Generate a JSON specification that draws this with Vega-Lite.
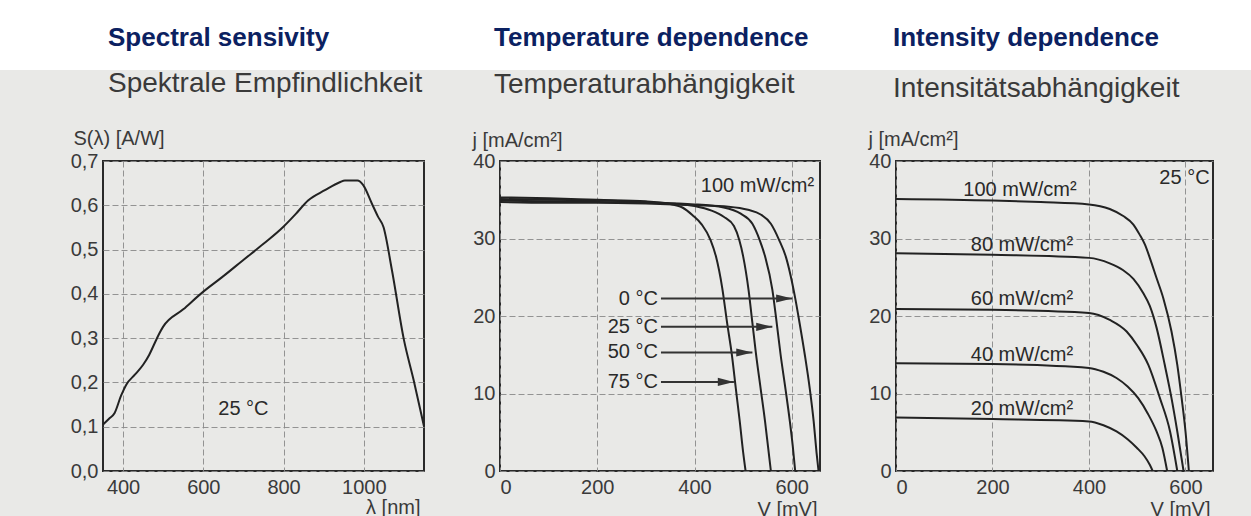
{
  "$schema": "https://vega.github.io/schema/vega-lite/v6.json",
  "autosize": {"type": "none"},
  "padding": {"left": 0, "top": 0, "right": 1251, "bottom": 516},
  "background": "#e9e9e7",
  "bounds": "flush",
  "spacing": 91,
  "datasets": {
    "spectral": [
      {"wavelength": 350, "S": 0.105}, {"wavelength": 365, "S": 0.118}, {"wavelength": 379, "S": 0.131},
      {"wavelength": 395, "S": 0.17}, {"wavelength": 408, "S": 0.195}, {"wavelength": 430, "S": 0.218},
      {"wavelength": 450, "S": 0.24}, {"wavelength": 465, "S": 0.262}, {"wavelength": 479, "S": 0.289},
      {"wavelength": 490, "S": 0.31}, {"wavelength": 500, "S": 0.326}, {"wavelength": 550, "S": 0.365},
      {"wavelength": 600, "S": 0.405}, {"wavelength": 650, "S": 0.44}, {"wavelength": 699, "S": 0.476},
      {"wavelength": 750, "S": 0.513}, {"wavelength": 799, "S": 0.551}, {"wavelength": 830, "S": 0.58},
      {"wavelength": 861, "S": 0.611}, {"wavelength": 903, "S": 0.634}, {"wavelength": 940, "S": 0.652},
      {"wavelength": 953, "S": 0.656}, {"wavelength": 984, "S": 0.656}, {"wavelength": 999, "S": 0.645},
      {"wavelength": 1020, "S": 0.604}, {"wavelength": 1035, "S": 0.575}, {"wavelength": 1049, "S": 0.551},
      {"wavelength": 1070, "S": 0.454}, {"wavelength": 1100, "S": 0.296}, {"wavelength": 1124, "S": 0.206},
      {"wavelength": 1150, "S": 0.101}
    ],
    "temperature": [
      {"T": "75 °C", "V": 0, "j": 35.3}, {"T": "75 °C", "V": 100, "j": 35.2}, {"T": "75 °C", "V": 200, "j": 35.0},
      {"T": "75 °C", "V": 300, "j": 34.8}, {"T": "75 °C", "V": 345, "j": 34.5}, {"T": "75 °C", "V": 375, "j": 34.0},
      {"T": "75 °C", "V": 396, "j": 33.0}, {"T": "75 °C", "V": 415, "j": 31.8}, {"T": "75 °C", "V": 433, "j": 29.8},
      {"T": "75 °C", "V": 444, "j": 27.7}, {"T": "75 °C", "V": 457, "j": 23.6}, {"T": "75 °C", "V": 467, "j": 19.1},
      {"T": "75 °C", "V": 477, "j": 14.9}, {"T": "75 °C", "V": 485, "j": 10.6}, {"T": "75 °C", "V": 493, "j": 6.4},
      {"T": "75 °C", "V": 500, "j": 2.4}, {"T": "75 °C", "V": 505, "j": 0},
      {"T": "50 °C", "V": 0, "j": 35.1}, {"T": "50 °C", "V": 100, "j": 35.0}, {"T": "50 °C", "V": 200, "j": 34.9},
      {"T": "50 °C", "V": 300, "j": 34.7}, {"T": "50 °C", "V": 360, "j": 34.5}, {"T": "50 °C", "V": 400, "j": 34.2},
      {"T": "50 °C", "V": 435, "j": 33.6}, {"T": "50 °C", "V": 460, "j": 32.8}, {"T": "50 °C", "V": 481, "j": 31.6},
      {"T": "50 °C", "V": 492, "j": 29.8}, {"T": "50 °C", "V": 500, "j": 27.7}, {"T": "50 °C", "V": 511, "j": 23.4},
      {"T": "50 °C", "V": 519, "j": 19.1}, {"T": "50 °C", "V": 526, "j": 15.3}, {"T": "50 °C", "V": 536, "j": 10.6},
      {"T": "50 °C", "V": 545, "j": 6.4}, {"T": "50 °C", "V": 551, "j": 3.2}, {"T": "50 °C", "V": 557, "j": 0},
      {"T": "25 °C", "V": 0, "j": 34.9}, {"T": "25 °C", "V": 100, "j": 34.8}, {"T": "25 °C", "V": 200, "j": 34.7},
      {"T": "25 °C", "V": 300, "j": 34.6}, {"T": "25 °C", "V": 400, "j": 34.4}, {"T": "25 °C", "V": 460, "j": 34.0},
      {"T": "25 °C", "V": 495, "j": 33.2}, {"T": "25 °C", "V": 519, "j": 31.9}, {"T": "25 °C", "V": 534, "j": 29.8},
      {"T": "25 °C", "V": 545, "j": 27.7}, {"T": "25 °C", "V": 560, "j": 23.4}, {"T": "25 °C", "V": 568, "j": 19.6},
      {"T": "25 °C", "V": 577, "j": 15.0}, {"T": "25 °C", "V": 587, "j": 10.6}, {"T": "25 °C", "V": 596, "j": 6.4},
      {"T": "25 °C", "V": 602, "j": 3.2}, {"T": "25 °C", "V": 607, "j": 0},
      {"T": "0 °C", "V": 0, "j": 34.7}, {"T": "0 °C", "V": 100, "j": 34.6}, {"T": "0 °C", "V": 200, "j": 34.6},
      {"T": "0 °C", "V": 300, "j": 34.5}, {"T": "0 °C", "V": 400, "j": 34.3}, {"T": "0 °C", "V": 470, "j": 34.1},
      {"T": "0 °C", "V": 510, "j": 33.7}, {"T": "0 °C", "V": 536, "j": 33.1}, {"T": "0 °C", "V": 557, "j": 31.9},
      {"T": "0 °C", "V": 574, "j": 29.8}, {"T": "0 °C", "V": 588, "j": 27.6}, {"T": "0 °C", "V": 598, "j": 25.1},
      {"T": "0 °C", "V": 607, "j": 22.3}, {"T": "0 °C", "V": 616, "j": 19.1}, {"T": "0 °C", "V": 627, "j": 14.9},
      {"T": "0 °C", "V": 637, "j": 10.6}, {"T": "0 °C", "V": 645, "j": 6.4}, {"T": "0 °C", "V": 651, "j": 2.3},
      {"T": "0 °C", "V": 655, "j": 0}
    ],
    "arrows": [
      {"label": "0 °C", "V": 331, "tip": 601, "j": 22.25},
      {"label": "25 °C", "V": 331, "tip": 560, "j": 18.6},
      {"label": "50 °C", "V": 331, "tip": 519, "j": 15.3},
      {"label": "75 °C", "V": 331, "tip": 481, "j": 11.5}
    ],
    "intensity": [
      {"P": "100", "V": 0, "j": 35.1}, {"P": "100", "V": 200, "j": 34.9}, {"P": "100", "V": 300, "j": 34.7},
      {"P": "100", "V": 400, "j": 34.4}, {"P": "100", "V": 443, "j": 33.8}, {"P": "100", "V": 471, "j": 32.9},
      {"P": "100", "V": 492, "j": 31.8}, {"P": "100", "V": 505, "j": 30.5}, {"P": "100", "V": 516, "j": 29.2},
      {"P": "100", "V": 526, "j": 27.5}, {"P": "100", "V": 540, "j": 24.9}, {"P": "100", "V": 554, "j": 22.3},
      {"P": "100", "V": 571, "j": 18.0}, {"P": "100", "V": 583, "j": 13.7}, {"P": "100", "V": 592, "j": 9.4},
      {"P": "100", "V": 600, "j": 5.1}, {"P": "100", "V": 607, "j": 0},
      {"P": "80", "V": 0, "j": 28.1}, {"P": "80", "V": 200, "j": 27.9}, {"P": "80", "V": 400, "j": 27.5},
      {"P": "80", "V": 443, "j": 26.8}, {"P": "80", "V": 471, "j": 25.9}, {"P": "80", "V": 492, "j": 24.8},
      {"P": "80", "V": 512, "j": 23.0}, {"P": "80", "V": 526, "j": 21.3}, {"P": "80", "V": 540, "j": 18.5},
      {"P": "80", "V": 557, "j": 13.7}, {"P": "80", "V": 571, "j": 9.4}, {"P": "80", "V": 583, "j": 5.1},
      {"P": "80", "V": 596, "j": 0},
      {"P": "60", "V": 0, "j": 20.9}, {"P": "60", "V": 200, "j": 20.8}, {"P": "60", "V": 400, "j": 20.4},
      {"P": "60", "V": 443, "j": 19.5}, {"P": "60", "V": 478, "j": 18.0}, {"P": "60", "V": 500, "j": 16.2},
      {"P": "60", "V": 523, "j": 13.7}, {"P": "60", "V": 547, "j": 9.4}, {"P": "60", "V": 568, "j": 5.1},
      {"P": "60", "V": 583, "j": 0},
      {"P": "40", "V": 0, "j": 13.9}, {"P": "40", "V": 200, "j": 13.8}, {"P": "40", "V": 400, "j": 13.3},
      {"P": "40", "V": 430, "j": 12.8}, {"P": "40", "V": 457, "j": 12.0}, {"P": "40", "V": 480, "j": 10.9},
      {"P": "40", "V": 502, "j": 9.4}, {"P": "40", "V": 522, "j": 7.4}, {"P": "40", "V": 540, "j": 5.1},
      {"P": "40", "V": 552, "j": 3.0}, {"P": "40", "V": 562, "j": 0},
      {"P": "20", "V": 0, "j": 6.9}, {"P": "20", "V": 200, "j": 6.7}, {"P": "20", "V": 400, "j": 6.4},
      {"P": "20", "V": 430, "j": 5.9}, {"P": "20", "V": 457, "j": 5.1}, {"P": "20", "V": 480, "j": 4.1},
      {"P": "20", "V": 499, "j": 3.0}, {"P": "20", "V": 515, "j": 1.9}, {"P": "20", "V": 526, "j": 0.8},
      {"P": "20", "V": 532, "j": 0}
    ],
    "intensityLabels": [
      {"label": "100 mW/cm²", "V": 257, "j": 35.5},
      {"label": "80 mW/cm²", "V": 261, "j": 28.4},
      {"label": "60 mW/cm²", "V": 261, "j": 21.4},
      {"label": "40 mW/cm²", "V": 261, "j": 14.2},
      {"label": "20 mW/cm²", "V": 261, "j": 7.2}
    ]
  },
  "config": {
    "font": "Liberation Sans",
    "view": {"stroke": "#2a2a2a", "strokeWidth": 2},
    "axis": {
      "labelFont": "Liberation Sans", "labelFontSize": 20, "labelColor": "#3a3a3a",
      "titleFont": "Liberation Sans", "titleFontSize": 20, "titleFontWeight": "normal", "titleColor": "#3a3a3a",
      "domain": false, "ticks": false, "grid": true,
      "gridColor": "#8a8a8a", "gridDash": [6, 3], "gridWidth": 1, "gridOpacity": 0.9,
      "labelPadding": 5
    },
    "text": {"font": "Liberation Sans", "fontSize": 20, "color": "#2a2a2a"}
  },
  "vconcat": [
    {
      "width": 1251, "height": 70,
      "data": {"values": []},
      "mark": "point",
      "view": {"fill": "white", "stroke": null}
    },
    {
      "bounds": "flush",
      "spacing": 76,
      "hconcat": [
        {
          "width": 27, "height": 310,
          "data": {"values": []},
          "mark": "point",
          "view": {"stroke": null, "fill": null}
        },
        {
          "width": 321, "height": 310,
          "title": {
            "text": "Spectral sensivity", "subtitle": "Spektrale Empfindlichkeit",
            "anchor": "start", "frame": "group", "dx": 5, "offset": 30,
            "font": "Liberation Sans", "fontSize": 26, "fontWeight": "bold", "color": "#0b2161",
            "subtitleFont": "Liberation Sans", "subtitleFontSize": 28, "subtitleColor": "#3a3a3a", "subtitlePadding": 19
          },
          "layer": [
            {
              "data": {"name": "spectral"},
              "mark": {"type": "line", "interpolate": "monotone", "color": "#222222", "strokeWidth": 2},
              "encoding": {
                "x": {"field": "wavelength", "type": "quantitative",
                  "scale": {"domain": [350, 1150], "nice": false, "zero": false},
                  "axis": {"values": [400, 600, 800, 1000], "format": "d", "title": "λ [nm]", "titleX": 317, "titleY": 42,
                    "titleAlign": "right", "titleBaseline": "alphabetic", "labelPadding": 6}},
                "y": {"field": "S", "type": "quantitative",
                  "scale": {"domain": [0, 0.7], "nice": false},
                  "axis": {"values": [0, 0.1, 0.2, 0.3, 0.4, 0.5, 0.6, 0.7],
                    "labelExpr": "replace(format(datum.value, '.1f'), '.', ',')",
                    "title": "S(λ) [A/W]", "titleAngle": 0, "titleX": -30, "titleY": -17,
                    "titleAlign": "left", "titleBaseline": "alphabetic"}}
              }
            },
            {
              "data": {"values": [{"label": "25 °C", "wavelength": 700, "S": 0.127}]},
              "mark": {"type": "text", "align": "center", "baseline": "alphabetic"},
              "encoding": {
                "x": {"field": "wavelength", "type": "quantitative"},
                "y": {"field": "S", "type": "quantitative"},
                "text": {"field": "label"}
              }
            }
          ]
        },
        {
          "width": 320, "height": 310,
          "title": {
            "text": "Temperature dependence", "subtitle": "Temperaturabhängigkeit",
            "anchor": "start", "frame": "group", "dx": -6, "offset": 31,
            "font": "Liberation Sans", "fontSize": 26, "fontWeight": "bold", "color": "#0b2161",
            "subtitleFont": "Liberation Sans", "subtitleFontSize": 28, "subtitleColor": "#3a3a3a", "subtitlePadding": 20
          },
          "layer": [
            {
              "data": {"name": "temperature"},
              "mark": {"type": "line", "interpolate": "monotone", "color": "#222222", "strokeWidth": 2},
              "encoding": {
                "x": {"field": "V", "type": "quantitative",
                  "scale": {"domain": [0, 658], "nice": false},
                  "axis": {"values": [0, 200, 400, 600], "title": "V [mV]", "titleX": 317, "titleY": 44,
                    "titleAlign": "right", "titleBaseline": "alphabetic", "labelPadding": 6}},
                "y": {"field": "j", "type": "quantitative",
                  "scale": {"domain": [0, 40], "nice": false},
                  "axis": {"values": [0, 10, 20, 30, 40],
                    "title": "j [mA/cm²]", "titleAngle": 0, "titleX": -28, "titleY": -15,
                    "titleAlign": "left", "titleBaseline": "alphabetic"}},
                "detail": {"field": "T"}
              }
            },
            {
              "data": {"name": "arrows"},
              "mark": {"type": "rule", "color": "#333333", "strokeWidth": 2},
              "encoding": {
                "x": {"field": "V", "type": "quantitative"},
                "x2": {"field": "tip"},
                "y": {"field": "j", "type": "quantitative"}
              }
            },
            {
              "data": {"name": "arrows"},
              "mark": {"type": "point", "shape": "M-2,-0.5L0,0L-2,0.5Z", "filled": true, "color": "#333333", "size": 260, "opacity": 1},
              "encoding": {
                "x": {"field": "tip", "type": "quantitative"},
                "y": {"field": "j", "type": "quantitative"}
              }
            },
            {
              "data": {"name": "arrows"},
              "mark": {"type": "text", "align": "right", "baseline": "middle", "dx": -3},
              "encoding": {
                "x": {"field": "V", "type": "quantitative"},
                "y": {"field": "j", "type": "quantitative"},
                "text": {"field": "label"}
              }
            },
            {
              "data": {"values": [{"label": "100 mW/cm²", "V": 646, "j": 36.0}]},
              "mark": {"type": "text", "align": "right", "baseline": "alphabetic"},
              "encoding": {
                "x": {"field": "V", "type": "quantitative"},
                "y": {"field": "j", "type": "quantitative"},
                "text": {"field": "label"}
              }
            }
          ]
        },
        {
          "width": 317, "height": 310,
          "title": {
            "text": "Intensity dependence", "subtitle": "Intensitätsabhängigkeit",
            "anchor": "start", "frame": "group", "dx": -3, "offset": 26,
            "font": "Liberation Sans", "fontSize": 26, "fontWeight": "bold", "color": "#0b2161",
            "subtitleFont": "Liberation Sans", "subtitleFontSize": 28, "subtitleColor": "#3a3a3a", "subtitlePadding": 24
          },
          "layer": [
            {
              "data": {"name": "intensity"},
              "mark": {"type": "line", "interpolate": "monotone", "color": "#222222", "strokeWidth": 2},
              "encoding": {
                "x": {"field": "V", "type": "quantitative",
                  "scale": {"domain": [0, 657], "nice": false},
                  "axis": {"values": [0, 200, 400, 600], "title": "V [mV]", "titleX": 314, "titleY": 44,
                    "titleAlign": "right", "titleBaseline": "alphabetic", "labelPadding": 6}},
                "y": {"field": "j", "type": "quantitative",
                  "scale": {"domain": [0, 40], "nice": false},
                  "axis": {"values": [0, 10, 20, 30, 40],
                    "title": "j [mA/cm²]", "titleAngle": 0, "titleX": -28, "titleY": -16,
                    "titleAlign": "left", "titleBaseline": "alphabetic"}},
                "detail": {"field": "P"}
              }
            },
            {
              "data": {"name": "intensityLabels"},
              "mark": {"type": "text", "align": "center", "baseline": "alphabetic"},
              "encoding": {
                "x": {"field": "V", "type": "quantitative"},
                "y": {"field": "j", "type": "quantitative"},
                "text": {"field": "label"}
              }
            },
            {
              "data": {"values": [{"label": "25 °C", "V": 650, "j": 37.0}]},
              "mark": {"type": "text", "align": "right", "baseline": "alphabetic"},
              "encoding": {
                "x": {"field": "V", "type": "quantitative"},
                "y": {"field": "j", "type": "quantitative"},
                "text": {"field": "label"}
              }
            }
          ]
        }
      ]
    }
  ]
}
